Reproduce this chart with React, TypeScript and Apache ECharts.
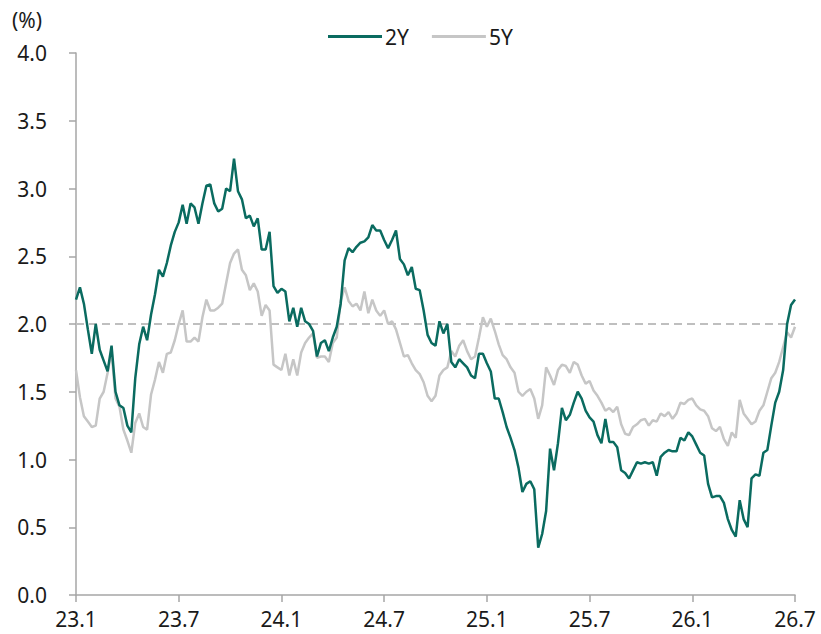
import React, { useEffect, useRef } from "react";
import * as echarts from "echarts";

const tickLabels = ["23.1", "23.7", "24.1", "24.7", "25.1", "25.7", "26.1", "26.7"];
const POINTS_PER_TICK = 26;

const y2 = [
  2.18, 2.27, 2.15, 1.96, 1.78, 2.0, 1.81, 1.73, 1.65, 1.84,
  1.5, 1.4, 1.38, 1.25, 1.2, 1.6, 1.85, 1.98, 1.88, 2.07,
  2.22, 2.4, 2.35, 2.45, 2.58, 2.68, 2.75, 2.88, 2.74, 2.89,
  2.86, 2.74, 2.89, 3.02, 3.03, 2.89, 2.83, 2.85, 3.0, 2.98,
  3.22, 2.98, 2.92, 2.78, 2.8, 2.72, 2.78, 2.55, 2.55, 2.68,
  2.28, 2.23, 2.26, 2.24, 2.02, 2.12, 1.98, 2.12, 2.02, 2.0,
  1.95, 1.76, 1.86, 1.88, 1.8, 1.9, 1.98, 2.15, 2.47, 2.56,
  2.53, 2.57, 2.6, 2.61, 2.64, 2.73, 2.69, 2.69, 2.62, 2.56,
  2.62, 2.69, 2.48, 2.44, 2.36, 2.42, 2.26, 2.25, 2.1, 1.92,
  1.86, 1.84, 2.02, 1.93, 2.0, 1.72, 1.68, 1.74, 1.71, 1.68,
  1.62, 1.6, 1.78, 1.78, 1.71, 1.65, 1.45, 1.45, 1.35, 1.24,
  1.16, 1.07, 0.94, 0.76, 0.82, 0.84, 0.78, 0.35, 0.45, 0.62,
  1.08, 0.92, 1.12, 1.38, 1.29, 1.33, 1.42, 1.5, 1.45, 1.36,
  1.31, 1.28, 1.18, 1.12, 1.3, 1.13, 1.13, 1.09, 0.92, 0.9,
  0.86, 0.92, 0.98, 0.97, 0.98, 0.97, 0.98, 0.88, 1.02, 1.05,
  1.07, 1.06, 1.06, 1.16, 1.14, 1.2, 1.17, 1.11, 1.05, 1.03,
  0.82, 0.72, 0.73, 0.73, 0.68, 0.56, 0.48, 0.43, 0.7, 0.56,
  0.5, 0.86, 0.89, 0.88, 1.05, 1.07, 1.25, 1.42, 1.5, 1.66,
  2.0, 2.14, 2.18,
];

const y5 = [
  1.66, 1.46, 1.32, 1.28, 1.24, 1.25, 1.45, 1.5, 1.64, 1.8,
  1.45, 1.39, 1.22, 1.14, 1.05, 1.27, 1.34, 1.24, 1.22, 1.48,
  1.59, 1.72, 1.64, 1.78, 1.79, 1.88, 2.0, 2.1, 1.87, 1.87,
  1.9, 1.87, 2.05, 2.18, 2.1, 2.1, 2.12, 2.15, 2.3, 2.45,
  2.52, 2.55, 2.4, 2.36, 2.25, 2.3, 2.24, 2.06, 2.14, 2.1,
  1.7, 1.68, 1.66, 1.78, 1.62, 1.74, 1.62, 1.79, 1.86, 1.9,
  1.93, 1.75, 1.76, 1.76, 1.72, 1.86, 1.9, 2.17, 2.27, 2.17,
  2.13, 2.15, 2.1, 2.24, 2.08, 2.18, 2.1, 2.06, 2.1, 2.0,
  2.02, 1.96, 1.86, 1.76, 1.77, 1.71, 1.66, 1.63, 1.57, 1.47,
  1.43, 1.47, 1.62, 1.66, 1.68, 1.8, 1.76, 1.84, 1.88, 1.8,
  1.74, 1.76, 1.9, 2.05, 1.98, 2.04, 1.95, 1.85, 1.77, 1.74,
  1.68, 1.64, 1.5, 1.47, 1.5, 1.52, 1.45, 1.3, 1.4, 1.68,
  1.62, 1.55, 1.66, 1.7, 1.69, 1.64, 1.72, 1.7, 1.62, 1.56,
  1.58, 1.51, 1.47, 1.42, 1.36, 1.38, 1.35, 1.39, 1.26, 1.19,
  1.18, 1.24, 1.26, 1.29, 1.3, 1.25, 1.29, 1.28, 1.34, 1.32,
  1.35, 1.3, 1.34, 1.42, 1.41, 1.44, 1.45, 1.4, 1.37, 1.36,
  1.32, 1.23, 1.21, 1.24, 1.15, 1.1, 1.2, 1.16, 1.44, 1.34,
  1.3, 1.26, 1.28, 1.36, 1.4, 1.5, 1.6, 1.64, 1.72, 1.83,
  1.94, 1.9, 1.98,
];

const categories = y2.map((_, i) => String(i));

const FONT = "'Noto Sans', sans-serif";
const TEXT = "#1a1a1a";
const AXIS = "#a6a6a6";

export default function App() {
  const ref = useRef<HTMLDivElement>(null);
  useEffect(() => {
    if (!ref.current) return;
    const chart = echarts.init(ref.current, undefined, { renderer: "svg" });
    chart.setOption({
      animation: false,
      backgroundColor: "#ffffff",
      textStyle: { fontFamily: FONT },
      graphic: [
        {
          type: "text",
          left: 12,
          top: 9,
          style: { text: "(%)", fontSize: 21, fontFamily: FONT, fill: TEXT },
        },
      ],
      legend: {
        left: 323,
        top: 21,
        icon: "rect",
        itemWidth: 54,
        itemHeight: 3,
        itemGap: 23,
        textStyle: { fontSize: 21, fontFamily: FONT, color: TEXT, padding: [0, 0, 0, -2] },
        data: ["2Y", "5Y"],
      },
      grid: {
        left: 76,
        right: 26,
        top: 53,
        bottom: 39,
        containLabel: false,
        outerBoundsMode: "none",
      },
      xAxis: {
        type: "category",
        data: categories,
        boundaryGap: false,
        axisLine: { lineStyle: { color: AXIS, width: 1.5 } },
        axisTick: { show: true, interval: POINTS_PER_TICK - 1, length: 7, lineStyle: { color: AXIS, width: 1.5 } },
        axisLabel: {
          interval: POINTS_PER_TICK - 1,
          margin: 14,
          fontSize: 21,
          lineHeight: 20,
          fontFamily: FONT,
          color: TEXT,
          formatter: (v: string) => {
            const n = Number(v);
            return n % POINTS_PER_TICK === 0 ? tickLabels[n / POINTS_PER_TICK] : "";
          },
        },
        splitLine: { show: false },
      },
      yAxis: {
        type: "value",
        min: 0,
        max: 4,
        interval: 0.5,
        axisLine: { show: true, lineStyle: { color: AXIS, width: 1.5 } },
        axisTick: { show: true, length: 7, lineStyle: { color: AXIS, width: 1.5 } },
        axisLabel: {
          margin: 29,
          fontSize: 21,
          lineHeight: 18,
          fontFamily: FONT,
          color: TEXT,
          formatter: (v: number) => v.toFixed(1),
        },
        splitLine: { show: false },
      },
      series: [
        {
          name: "5Y",
          type: "line",
          data: y5,
          symbol: "none",
          z: 2,
          lineStyle: { color: "#c6c6c6", width: 2.5 },
          itemStyle: { color: "#c6c6c6" },
        },
        {
          name: "2Y",
          type: "line",
          data: y2,
          symbol: "none",
          z: 3,
          lineStyle: { color: "#0a6b60", width: 2.5 },
          itemStyle: { color: "#0a6b60" },
          markLine: {
            silent: true,
            symbol: "none",
            label: { show: false },
            lineStyle: { color: "#bfbfbf", type: [8, 5], width: 2 },
            data: [{ yAxis: 2 }],
            z: 1,
          },
        },
      ],
    });
    return () => chart.dispose();
  }, []);
  return (
    <div
      ref={ref}
      style={{ position: "absolute", left: 0, top: 0, width: 821, height: 634 }}
    />
  );
}
